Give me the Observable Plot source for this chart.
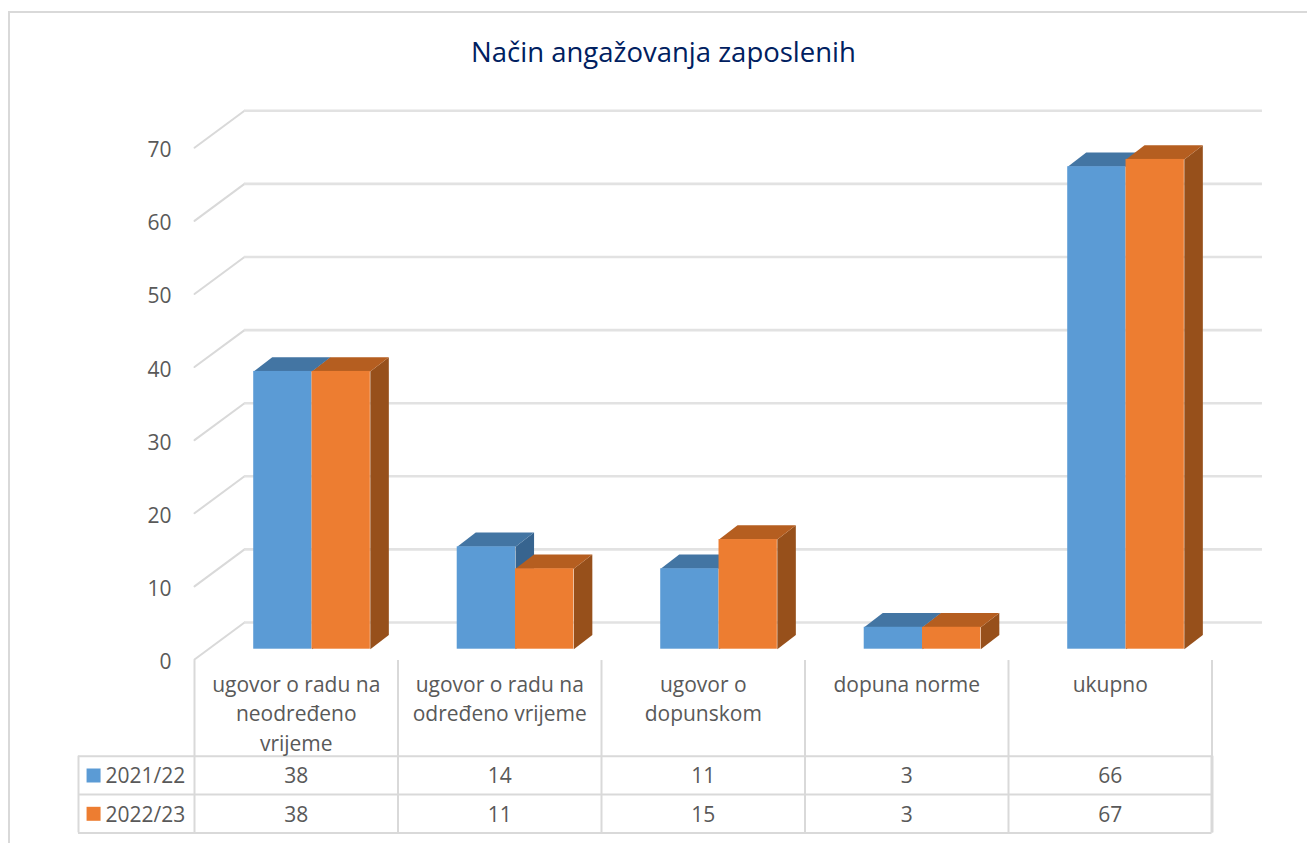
<!DOCTYPE html>
<html>
<head>
<meta charset="utf-8">
<script src="https://cdn.jsdelivr.net/npm/d3@7"></script>
<script src="https://cdn.jsdelivr.net/npm/@observablehq/plot@0.6"></script>
<style>
html,body{margin:0;padding:0;background:#fff;overflow:hidden}
#page{position:relative;width:1307px;height:843px;overflow:hidden;font-family:"Open Sans",sans-serif}
#frame{position:absolute;left:8px;top:11px;width:1320px;height:900px;border:2px solid #d9d9d9;box-sizing:border-box}
#title{position:relative;height:74px;box-sizing:border-box;padding-top:33px;width:1327px;text-align:center;font-size:27.5px;line-height:38px;color:#002060;white-space:nowrap}
#chart svg{display:block;background:none}
</style>
</head>
<body>
<div id="page">
<div id="frame"></div>
<div id="title">Način angažovanja zaposlenih</div>
<div id="chart"></div>
</div>
<script>
const categories = ["ugovor o radu na\nneodređeno\nvrijeme", "ugovor o radu na\nodređeno vrijeme", "ugovor o\ndopunskom", "dopuna norme", "ukupno"];
const seriesNames = ["2021/22", "2022/23"];
const values2021 = [38, 14, 11, 3, 66];
const values2022 = [38, 11, 15, 3, 67];
const yTicks = [0, 10, 20, 30, 40, 50, 60, 70];

const seriesColors = [
  {front: "#5b9bd5", top: "#4375a3", side: "#37648f"},
  {front: "#ed7d31", top: "#b55e20", side: "#97501b"}
];
const textColor = "#595959";
const gridColor = "#e2e2e2";
const tableColor = "#d9d9d9";

// geometry in scale units (categories on x, value on y)
const barOffset = 0.291, barWidth = 0.2865;
const depthX = 0.091, depthY = 1.95;
const wallX = 0.2457, wallEnd = 5.248, wallUp = 3.65, floorDown = -1.4;
const tableTop = -1.55, tableRows = [-14.64, -19.88, -25.13];
const tableLeft = -0.57;
const colEdges = [0, 1, 2, 3, 4, 5];

const bars = [values2021, values2022];
function barShapes(s) {
  return bars[s].map((v, c) => {
    const x0 = c + barOffset + s * barWidth, x1 = x0 + barWidth;
    return {c, v, x0, x1};
  });
}
function topFace(s) {
  return barShapes(s).flatMap(b => [
    {id: b.c, x: b.x0, y: b.v},
    {id: b.c, x: b.x1, y: b.v},
    {id: b.c, x: b.x1 + depthX, y: b.v + depthY},
    {id: b.c, x: b.x0 + depthX, y: b.v + depthY}
  ]);
}
function sideFace(s) {
  return barShapes(s).flatMap(b => [
    {id: b.c, x: b.x1, y: 0},
    {id: b.c, x: b.x1, y: b.v},
    {id: b.c, x: b.x1 + depthX, y: b.v + depthY},
    {id: b.c, x: b.x1 + depthX, y: depthY}
  ]);
}
function barMarks(s) {
  const col = seriesColors[s];
  return [
    Plot.line(sideFace(s), {x: "x", y: "y", z: "id", fill: col.side, stroke: "none"}),
    Plot.line(topFace(s), {x: "x", y: "y", z: "id", fill: col.top, stroke: "none"}),
    Plot.rect(barShapes(s), {x1: "x0", x2: "x1", y1: () => 0, y2: "v", fill: col.front})
  ];
}
const wallLines = yTicks.flatMap(t => [
  {t, x: 0, y: t + floorDown},
  {t, x: wallX, y: t + wallUp}
]);

const fs = 21;
const plot = Plot.plot({
  width: 1307,
  height: 769,
  marginLeft: 194,
  marginRight: 95.5,
  marginTop: 63,
  marginBottom: 194.3,
  x: {domain: [0, 5], axis: null},
  y: {domain: [0, 70], axis: null},
  style: {fontFamily: '"Open Sans", sans-serif', fontSize: fs + "px", background: "none", color: textColor},
  marks: [
    // back wall
    Plot.line(wallLines, {x: "x", y: "y", z: "t", stroke: tableColor, strokeWidth: 2}),
    Plot.ruleY(yTicks, {x1: () => wallX, x2: () => wallEnd, y: d => d + wallUp, stroke: gridColor, strokeWidth: 2.6}),
    // y axis labels
    Plot.axisY(yTicks, {anchor: "left", tickSize: 0, tickPadding: 23, dy: 13, label: null, fill: textColor, fontSize: fs}),
    // bars
    ...barMarks(0),
    ...barMarks(1),
    // data table grid
    Plot.ruleX(colEdges, {y1: () => tableTop, y2: () => tableRows[2], stroke: tableColor, strokeWidth: 2}),
    Plot.ruleX([5], {y1: () => tableRows[0], y2: () => tableRows[2], stroke: tableColor, strokeWidth: 3}),
    Plot.ruleX([tableLeft], {y1: () => tableRows[0], y2: () => tableRows[2], stroke: tableColor, strokeWidth: 2}),
    Plot.ruleY(tableRows, {x1: () => tableLeft, x2: () => 5, stroke: tableColor, strokeWidth: 2}),
    // category labels
    Plot.text(categories, {
      x: (d, i) => i + 0.5, y: () => 0, dy: 21.5, text: d => d,
      lineAnchor: "top", lineHeight: 1.405, fill: textColor, fontSize: fs
    }),
    // table values
    ...bars.map((vals, s) => Plot.text(vals, {
      x: (d, i) => i + 0.5, y: () => 0, dy: 127 + s * 39, text: d => String(d), fill: textColor, fontSize: fs
    })),
    // legend keys in the table
    ...seriesNames.flatMap((name, s) => [
      Plot.dot([name], {x: () => -0.496, y: () => 0, dy: 126.3 + s * 38.3, symbol: "square", r: 7.9, fill: seriesColors[s].front, stroke: "none"}),
      Plot.text([name], {x: () => -0.437, y: () => 0, dy: 127 + s * 39, text: d => d, textAnchor: "start", fill: textColor, fontSize: fs})
    ])
  ]
});
document.getElementById("chart").appendChild(plot);
</script>
</body>
</html>
